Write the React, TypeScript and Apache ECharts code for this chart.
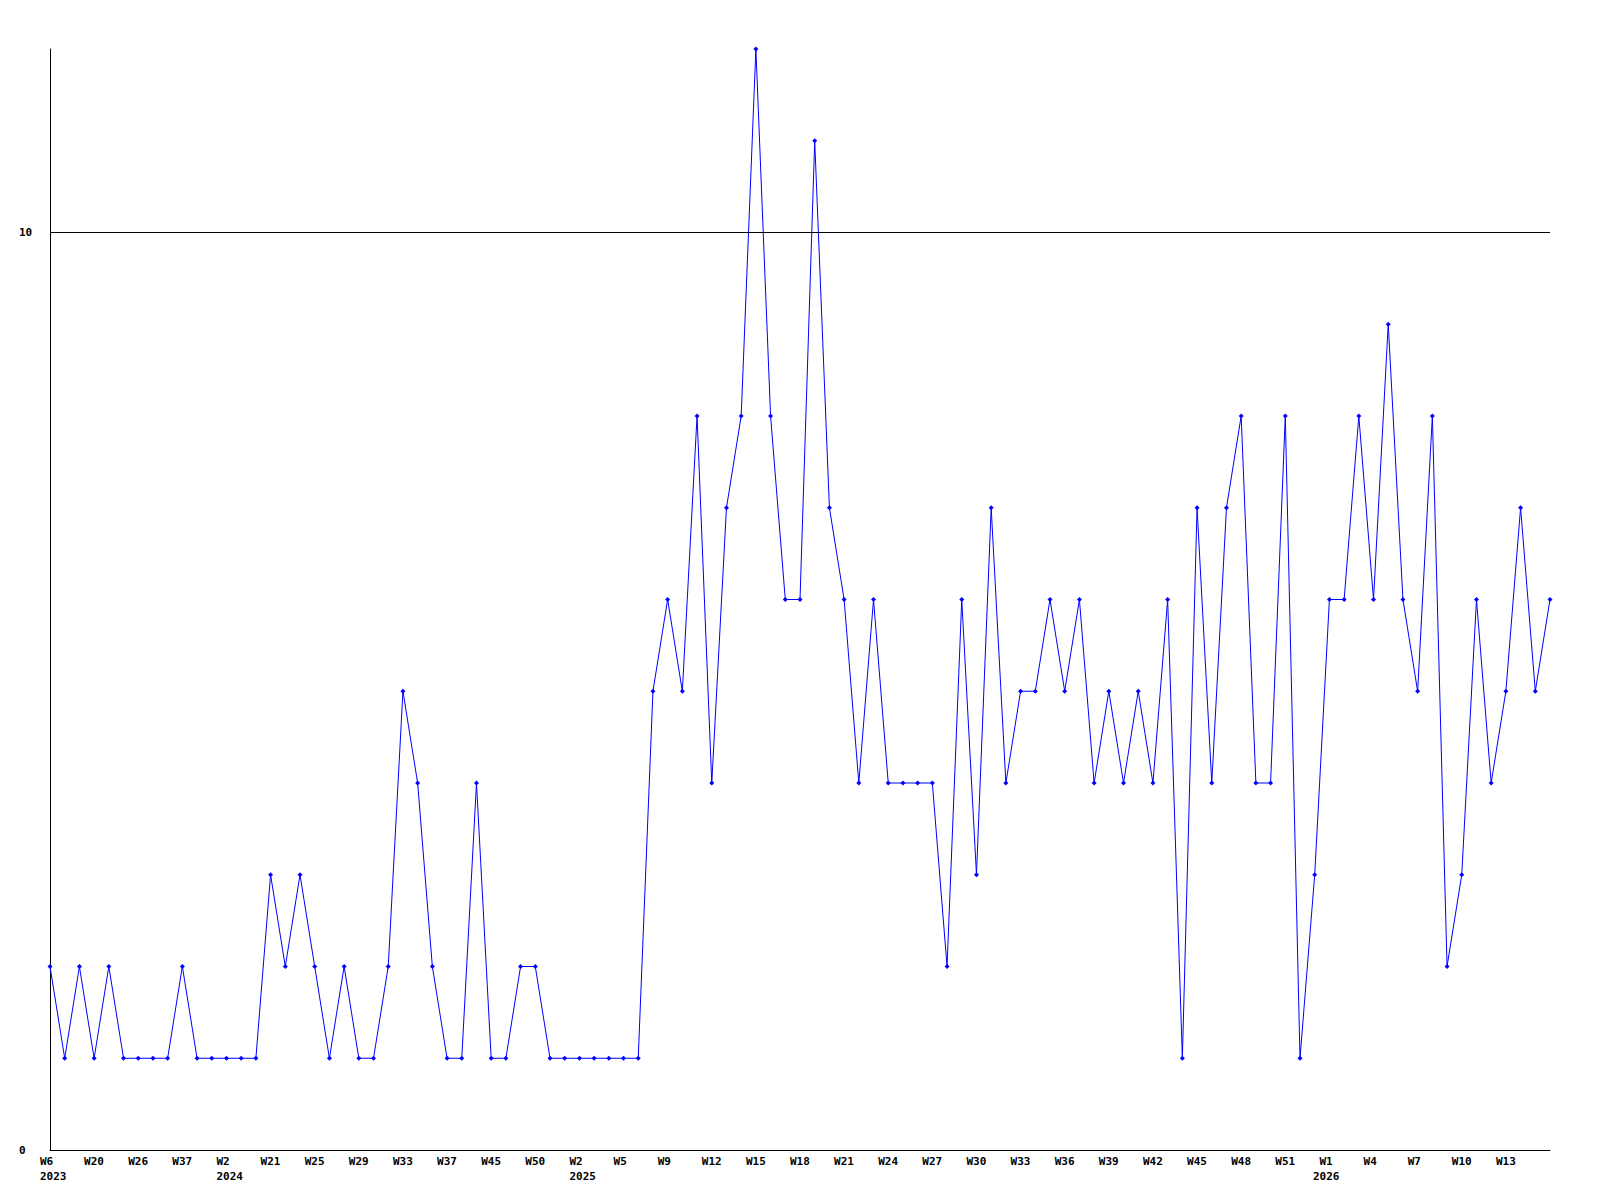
import React, { useEffect, useRef } from "react";
import * as echarts from "echarts";

const weeks: string[] = [
  "W6", "W8", "W13", "W20", "W22", "W24", "W26", "W29", "W33", "W37", "W42", "W48",
  "W2", "W10", "W17", "W21", "W23", "W24", "W25", "W27", "W28", "W29", "W31", "W32",
  "W33", "W34", "W36", "W37", "W40", "W43", "W45", "W47", "W48", "W50", "W51", "W52",
  "W2", "W3", "W4", "W5", "W6", "W8", "W9", "W10", "W11", "W12", "W13", "W14",
  "W15", "W16", "W17", "W18", "W19", "W20", "W21", "W22", "W23", "W24", "W25", "W26",
  "W27", "W28", "W29", "W30", "W31", "W32", "W33", "W34", "W35", "W36", "W37", "W38",
  "W39", "W40", "W41", "W42", "W43", "W44", "W45", "W46", "W47", "W48", "W49", "W50",
  "W51", "W52", "W53", "W1", "W2", "W3", "W4", "W5", "W6", "W7", "W8", "W9",
  "W10", "W11", "W12", "W13", "W14", "W15", "W16",
];

const yearMarks: Record<number, string> = { 0: "2023", 12: "2024", 36: "2025", 87: "2026" };
// year labels that sit shifted to the left of their week label in the reference
const shiftedYears: number[] = [87];

const values: number[] = [
  2, 1, 2, 1, 2, 1, 1, 1, 1, 2, 1, 1,
  1, 1, 1, 3, 2, 3, 2, 1, 2, 1, 1, 2,
  5, 4, 2, 1, 1, 4, 1, 1, 2, 2, 1, 1,
  1, 1, 1, 1, 1, 5, 6, 5, 8, 4, 7, 8,
  12, 8, 6, 6, 11, 7, 6, 4, 6, 4, 4, 4,
  4, 2, 6, 3, 7, 4, 5, 5, 6, 5, 6, 4,
  5, 4, 5, 4, 6, 1, 7, 4, 7, 8, 4, 4,
  8, 1, 3, 6, 6, 8, 6, 9, 6, 5, 8, 2,
  3, 6, 4, 5, 7, 5, 6,
];

const yTicks: number[] = [0, 10];
const referenceLine = 10;

const FONT = "DejaVu Sans Mono";

export default function App() {
  const ref = useRef<HTMLDivElement>(null);
  useEffect(() => {
    if (!ref.current) return;
    const chart = echarts.init(ref.current, undefined, { renderer: "svg" });
    const tokenStyle = {
      fontFamily: FONT,
      fontWeight: "bold",
      fontSize: 11,
      lineHeight: 15,
      color: "#000",
    };
    chart.setOption({
      animation: false,
      backgroundColor: "#ffffff",
      grid: { left: 50, right: 50, top: 49, bottom: 50, containLabel: false },
      xAxis: {
        type: "category",
        data: weeks,
        boundaryGap: false,
        axisLine: { show: true, lineStyle: { color: "#000", width: 1 } },
        axisTick: { show: false },
        splitLine: { show: false },
        axisLabel: {
          interval: 2,
          margin: 4,
          showMaxLabel: false,
          color: "#000",
          formatter: (val: string, idx: number) => {
            if (idx === weeks.length - 1) return "";
            const y = yearMarks[idx];
            if (!y) return `{a|${val}}`;
            const style = shiftedYears.includes(idx) ? "b" : "a";
            return `{a|${val}}\n{${style}|${y}}`;
          },
          rich: {
            a: { ...tokenStyle, width: 20, align: "left" },
            b: { ...tokenStyle, width: 20, align: "right" },
          },
        },
      },
      yAxis: {
        type: "value",
        min: 0,
        max: 12,
        interval: 10,
        axisLine: { show: true, lineStyle: { color: "#000", width: 1 } },
        axisTick: { show: false },
        splitLine: { show: false },
        axisLabel: {
          align: "left",
          margin: 31,
          color: "#000",
          fontFamily: FONT,
          fontWeight: "bold",
          fontSize: 11,
          formatter: (v: number) => (yTicks.includes(v) ? String(v) : ""),
        },
      },
      series: [
        {
          type: "line",
          data: values,
          symbol: "diamond",
          symbolSize: 5,
          lineStyle: { color: "#0000ff", width: 1 },
          itemStyle: { color: "#0000ff" },
          markLine: {
            silent: true,
            symbol: "none",
            label: { show: false },
            lineStyle: { color: "#000", width: 1, type: "solid" },
            data: [{ yAxis: referenceLine }],
          },
        },
      ],
    });
    return () => chart.dispose();
  }, []);
  return (
    <div
      ref={ref}
      style={{ position: "fixed", left: 0, top: 0, width: 1600, height: 1200 }}
    />
  );
}
